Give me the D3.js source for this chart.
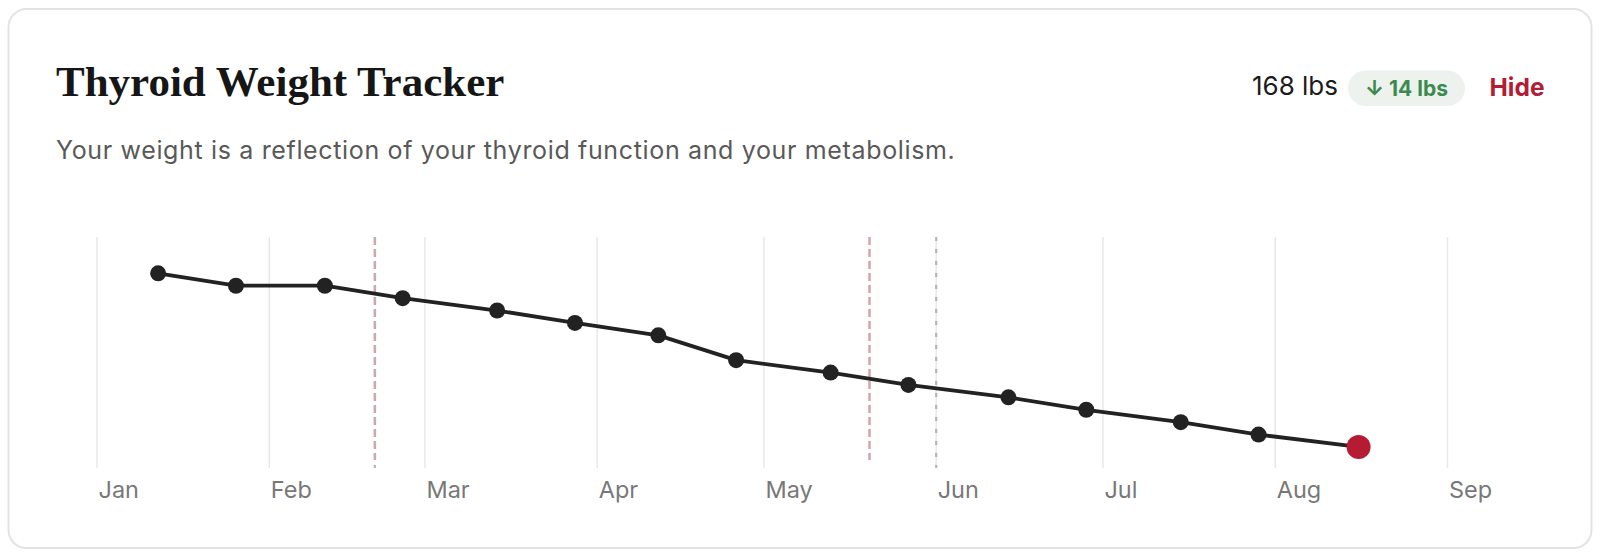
<!DOCTYPE html>
<html>
<head>
<meta charset="utf-8">
<script src="https://cdn.jsdelivr.net/npm/d3@7"></script>
<style>
  html, body { margin: 0; padding: 0; background: #fff; }
  svg { display: block; }
</style>
</head>
<body>
<svg id="chart" width="1600" height="557"></svg>
<script>
// ---- data ----
const dates = ["2025-01-12","2025-01-26","2025-02-11","2025-02-25","2025-03-14","2025-03-28","2025-04-12","2025-04-26","2025-05-13","2025-05-27","2025-06-14","2025-06-28","2025-07-15","2025-07-29","2025-08-16"];
const weights = [182,181,181,180,179,178,177,175,174,173,172,171,170,169,168];
const pinkEvents = ["2025-02-20","2025-05-20"];
const grayEvents = ["2025-02-20","2025-06-01"];
const xDomain = ["2025-01-01","2025-09-01"];
const yDomain = [165,185];
const titleText = "Thyroid Weight Tracker";
const subtitleText = "Your weight is a reflection of your thyroid function and your metabolism.";
const currentLabel = "168 lbs";
const changeLabel = "\u2193 14 lbs";
const hideLabel = "Hide";

const parse = d3.utcParse("%Y-%m-%d");
const points = dates.map((d,i) => ({date: parse(d), w: weights[i]}));

const svg = d3.select("#chart");

// card
svg.append("rect").attr("x",8.5).attr("y",9).attr("width",1583).attr("height",539)
  .attr("rx",18).attr("fill","#fff").attr("stroke","#e3e3e3").attr("stroke-width",2);

// header
svg.append("text").attr("x",56).attr("y",96).text(titleText)
  .attr("font-family","'Liberation Serif', serif").attr("font-weight",700)
  .attr("font-size",43).attr("fill","#161616");
svg.append("text").attr("x",56).attr("y",158.5).text(subtitleText)
  .attr("font-family","Inter, sans-serif").attr("font-size",25).attr("letter-spacing",0.65).attr("fill","#595959");

svg.append("text").attr("x",1338).attr("y",95).attr("text-anchor","end").text(currentLabel)
  .attr("font-family","Inter, sans-serif").attr("font-size",26).attr("fill","#1c1c1c");
svg.append("rect").attr("x",1348).attr("y",70.5).attr("width",117).attr("height",35.5).attr("rx",17.75)
  .attr("fill","#edf2ee");
svg.append("text").attr("x",1406.5).attr("y",95.5).attr("text-anchor","middle").text(changeLabel)
  .attr("font-family","Inter, sans-serif").attr("font-weight",700).attr("font-size",21).attr("fill","#3b8a4e");
svg.append("text").attr("x",1489.5).attr("y",95.5).text(hideLabel)
  .attr("font-family","Inter, sans-serif").attr("font-weight",700).attr("font-size",24.5).attr("fill","#b31c35");

// scales
const x = d3.scaleUtc().domain(xDomain.map(parse)).range([97,1447.5]);
const y = d3.scaleLinear().domain(yDomain).range([484.2,236.1]);
const gridTop = 237, gridBottom = 468;

const months = x.ticks(d3.utcMonth.every(1));
const g = svg.append("g");
g.selectAll("line.grid").data(months).join("line").attr("class","grid")
  .attr("x1",d=>x(d)).attr("x2",d=>x(d)).attr("y1",gridTop).attr("y2",gridBottom)
  .attr("stroke","#e8e8e8").attr("stroke-width",1.5);

// axis labels
const axis = d3.axisBottom(x).tickValues(months).tickFormat(d3.utcFormat("%b")).tickSize(0);
const ax = svg.append("g").attr("transform",`translate(0,${gridBottom})`).call(axis);
ax.select(".domain").remove();
ax.selectAll("text").attr("text-anchor","start").attr("dx",1).attr("dy",0).attr("y",29.5)
  .attr("font-family","Inter, sans-serif").attr("font-size",23.5).attr("fill","#787878");

// event lines
g.selectAll("line.pink").data(pinkEvents).join("line").attr("class","pink")
  .attr("x1",d=>x(parse(d))).attr("x2",d=>x(parse(d))).attr("y1",gridTop).attr("y2",460)
  .attr("stroke","#d6a2ac").attr("stroke-width",2.5).attr("stroke-dasharray","8,4");
g.selectAll("line.gray").data(grayEvents).join("line").attr("class","gray")
  .attr("x1",d=>x(parse(d))).attr("x2",d=>x(parse(d))).attr("y1",gridTop).attr("y2",gridBottom)
  .attr("stroke","#b5b5b5").attr("stroke-width",2.2).attr("stroke-dasharray","4,8");

// line
const line = d3.line().x(d=>x(d.date)).y(d=>y(d.w));
g.append("path").datum(points).attr("d",line).attr("fill","none")
  .attr("stroke","#222").attr("stroke-width",3.8).attr("stroke-linejoin","round");

g.selectAll("circle.pt").data(points.slice(0,-1)).join("circle").attr("class","pt")
  .attr("cx",d=>x(d.date)).attr("cy",d=>y(d.w)).attr("r",8).attr("fill","#222");
const last = points[points.length-1];
g.append("circle").attr("cx",x(last.date)).attr("cy",y(last.w)).attr("r",12).attr("fill","#b51c33");
</script>
</body>
</html>
